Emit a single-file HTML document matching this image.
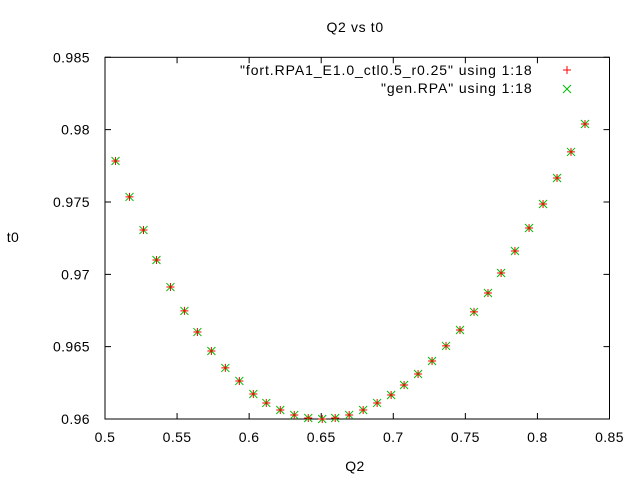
<!DOCTYPE html>
<html><head><meta charset="utf-8"><style>
body{margin:0;background:#fff}
svg{display:block;font-family:"Liberation Sans",sans-serif;font-size:14px;letter-spacing:0.4px}
</style></head><body>
<svg id="chart" width="640" height="480" viewBox="0 0 640 480">
<rect x="0" y="0" width="640" height="480" fill="#fff"/>
<text x="355" y="32" text-anchor="middle" textLength="57">Q2 vs t0</text>
<text x="355" y="471" text-anchor="middle">Q2</text>
<text x="13" y="242" text-anchor="middle">t0</text>
<g id="axes"></g>
<g id="marks"></g>
<g>
<text x="240" y="75" textLength="292">"fort.RPA1_E1.0_ctl0.5_r0.25" using 1:18</text>
<text x="381" y="93" textLength="151">"gen.RPA" using 1:18</text>
<path d="M563,70h8M567,66v8" stroke="#f00" stroke-width="1"/>
<path d="M563,85l8,8M563,93l8,-8" stroke="#0b0" stroke-width="1"/>
</g>
</svg>
<script>
const xTicks=[0.5,0.55,0.6,0.65,0.7,0.75,0.8,0.85];
const xTickLabels=["0.5","0.55","0.6","0.65","0.7","0.75","0.8","0.85"];
const yTicks=[0.96,0.965,0.97,0.975,0.98,0.985];
const yTickLabels=["0.96","0.965","0.97","0.975","0.98","0.985"];
const q2=[0.5073,0.517,0.5267,0.5357,0.5454,0.5551,0.5641,0.5738,0.5835,0.5932,0.6029,0.6119,0.6216,0.6313,0.641,0.6507,0.6597,0.6694,0.6791,0.6888,0.6985,0.7075,0.7172,0.7269,0.7366,0.7463,0.756,0.7657,0.7748,0.7844,0.7942,0.8039,0.8136,0.8233,0.833];
const t0Fort=[0.97783,0.97535,0.97306,0.97099,0.96912,0.96747,0.96601,0.9647,0.96353,0.96263,0.96173,0.96111,0.96062,0.96028,0.96007,0.96,0.96007,0.96028,0.96062,0.96111,0.96166,0.96235,0.96311,0.96401,0.96505,0.96615,0.9674,0.96871,0.97009,0.97161,0.9732,0.97486,0.97666,0.97846,0.98039];
const t0Gen=[0.97783,0.97535,0.97306,0.97099,0.96912,0.96747,0.96601,0.9647,0.96353,0.96263,0.96173,0.96111,0.96062,0.96028,0.96007,0.96,0.96007,0.96028,0.96062,0.96111,0.96166,0.96235,0.96311,0.96401,0.96505,0.96615,0.9674,0.96871,0.97009,0.97161,0.9732,0.97486,0.97666,0.97846,0.98039];
const L=105,R=609.5,T=57.3,B=419;
function sx(v){return L+(v-0.5)/0.35*(R-L);}
function sy(v){return B-(v-0.96)/0.025*(B-T);}
const NS="http://www.w3.org/2000/svg";
function mk(tag,attrs,parent){const e=document.createElementNS(NS,tag);for(const k in attrs)e.setAttribute(k,attrs[k]);parent.appendChild(e);return e;}
const axes=document.getElementById('axes');
const frame=mk('rect',{x:L,y:T,width:R-L,height:B-T,fill:'none',stroke:'#000','stroke-width':1},axes);


xTicks.forEach((v,i)=>{
  const x=sx(v);
  const t=mk('path',{d:`M${x},${B}v-6M${x},${T}v6`,stroke:'#000'},axes);
  
  
  const lb=mk('text',{x:x,y:B+23,'text-anchor':'middle'},axes);
  lb.textContent=xTickLabels[i];
  
  
});
yTicks.forEach((v,i)=>{
  const y=sy(v);
  const t=mk('path',{d:`M${L},${y}h6M${R},${y}h-6`,stroke:'#000'},axes);
  
  
  const lb=mk('text',{x:L-15,y:y+5,'text-anchor':'end'},axes);
  lb.textContent=yTickLabels[i];
  
  
});
const marks=document.getElementById('marks');
q2.forEach((q,i)=>{
  const x=sx(q),y=sy(t0Gen[i]);
  const g=mk('path',{d:`M${x-4},${y-4}l8,8M${x-4},${y+4}l8,-8`,stroke:'#0b0','stroke-width':1},marks);
  
  
});
q2.forEach((q,i)=>{
  const x=sx(q),y=sy(t0Fort[i]);
  const p=mk('path',{d:`M${x-4},${y}h8M${x},${y-4}v8`,stroke:'#f00','stroke-width':1},marks);
  
  
});
</script>
</body></html>
